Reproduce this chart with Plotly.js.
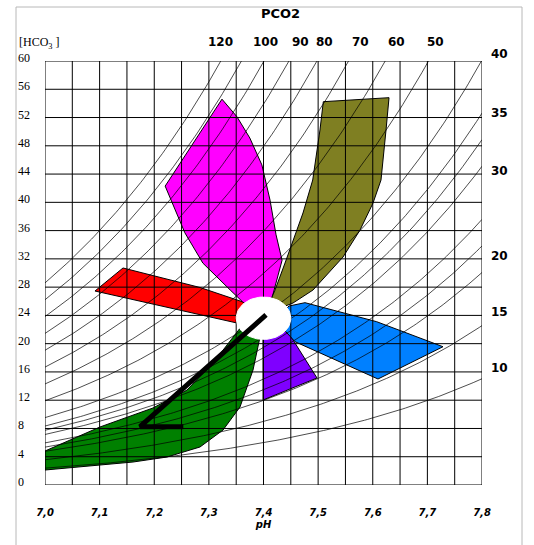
<!DOCTYPE html>
<html><head><meta charset="utf-8">
<script src="https://cdn.plot.ly/plotly-3.0.1.min.js"></script>
<style>html,body{margin:0;padding:0;background:#fff}#chart{width:534px;height:545px}</style>
</head><body><div id="chart"></div>
<script>
// ---- axis / tick data ----
const phTickVals=[7.0,7.1,7.2,7.3,7.4,7.5,7.6,7.7,7.8];
const phTickText=['7,0','7,1','7,2','7,3','7,4','7,5','7,6','7,7','7,8'];
const phGrid=[7.00,7.05,7.10,7.15,7.20,7.25,7.30,7.35,7.40,7.45,7.50,7.55,7.60,7.65,7.70,7.75,7.80];
const hco3Ticks=[0,4,8,12,16,20,24,28,32,36,40,44,48,52,56,60];
const pco2Isopleths=[120,110,100,90,80,70,60,50,40,35,32.5,30,25,22.5,20,15,10];
const pco2TopLabels=['120','100','90','80','70','60','50'];
const pco2RightLabels=['40','35','30','20','15','10'];

// ---- regions (pH, HCO3-) ----
const magentaPH=[7.324,7.3515,7.375,7.397,7.412,7.423,7.434,7.416,7.390,7.362,7.339,7.289,7.256,7.220];
const magentaHCO3=[54.6,52.1,49.1,45.3,40.3,35.4,31.8,26.6,24.5,25.9,27.6,31.4,35.7,42.3];
const redPH=[7.0915,7.1428,7.2838,7.3625,7.3844,7.3515];
const redHCO3=[27.45,30.71,27.95,25.90,24.06,22.92];
const olivePH=[7.5095,7.6298,7.6243,7.6151,7.6005,7.5767,7.5456,7.4906,7.4540,7.4119,7.4156,7.4211,7.4394,7.4540,7.4723,7.4901,7.5034];
const oliveHCO3=[54.24,54.81,50.23,43.16,39.90,36.08,32.26,27.59,25.75,24.48,26.60,27.59,31.41,34.67,38.49,43.16,50.24];
const bluePH=[7.4467,7.4760,7.6072,7.7286,7.6096,7.4577,7.4211];
const blueHCO3=[25.33,25.80,23.11,19.57,15.00,20.28,23.35];
const purplePH=[7.399,7.3991,7.4980,7.4449,7.4119];
const purpleHCO3=[22.6,12.03,15.14,21.65,23.35];
const greenPH=[7.0,7.1007,7.1977,7.2600,7.3076,7.3442,7.3588,7.390,7.3936,7.3808,7.3570,7.3259,7.2838,7.2233,7.1611,7.1007,7.0];
const greenHCO3=[4.81,8.21,10.90,13.44,17.26,20.94,22.36,23.07,20.94,16.27,11.04,7.78,5.38,3.96,3.25,2.83,2.12];
const normalCenter=[7.40,23.6];   // pH, HCO3
const normalHalfWidth=[0.05,3.0];
const pathPH=[7.4046,7.1739,7.2532];
const pathHCO3=[24.06,8.25,8.25];

const traces=[];
function region(x,y,color){
  traces.push({type:'scatter',mode:'lines',x:x.concat([x[0]]),y:y.concat([y[0]]),fill:'toself',
    fillcolor:color,line:{color:'#000',width:1},hoverinfo:'skip',showlegend:false});
}
region(greenPH,greenHCO3,'#008000');
region(redPH,redHCO3,'#ff0000');
region(magentaPH,magentaHCO3,'#ff00ff');
region(olivePH,oliveHCO3,'#7f7f22');
region(purplePH,purpleHCO3,'#7f00ff');
region(bluePH,blueHCO3,'#0080ff');

// grid as traces (drawn above fills like the reference)
const gx=[],gy=[];
phGrid.forEach(p=>{gx.push(p,p,null);gy.push(0,60,null);});
hco3Ticks.forEach(h=>{gx.push(7.0,7.8,null);gy.push(h,h,null);});
traces.push({type:'scatter',mode:'lines',x:gx,y:gy,line:{color:'#000',width:1},hoverinfo:'skip',showlegend:false});

// PCO2 isopleths (Henderson-Hasselbalch)
const ix=[],iy=[];
pco2Isopleths.forEach(P=>{
  for(let k=0;k<=160;k++){
    const ph=7.0+k*0.005;
    const h=0.03*P*Math.pow(10,ph-6.1);
    ix.push(ph);iy.push(h);
    if(h>60)break;
  }
  ix.push(null);iy.push(null);
});
traces.push({type:'scatter',mode:'lines',x:ix,y:iy,line:{color:'#000',width:0.7},hoverinfo:'skip',showlegend:false});

// normal zone ellipse
const ex=[],ey=[];
for(let k=0;k<=72;k++){const t=k/72*2*Math.PI;ex.push(normalCenter[0]+normalHalfWidth[0]*Math.cos(t));ey.push(normalCenter[1]+normalHalfWidth[1]*Math.sin(t));}
traces.push({type:'scatter',mode:'lines',x:ex,y:ey,fill:'toself',fillcolor:'#fff',line:{color:'#fff',width:1},hoverinfo:'skip',showlegend:false});

// patient path
traces.push({type:'scatter',mode:'lines',x:pathPH,y:pathHCO3,line:{color:'#000',width:5},hoverinfo:'skip',showlegend:false});

const H=424, W=437;
const px2paperX=p=>(p-45)/W, px2paperY=p=>(485-p)/H;
const ann=[];
const boldSans={family:'DejaVu Sans',size:12,weight:'bold',color:'#000'};
const topLabelPH=[7.322,7.403,7.467,7.511,7.577,7.643,7.715];
pco2TopLabels.forEach((t,i)=>ann.push({text:t,x:topLabelPH[i],xref:'x',xanchor:'center',y:px2paperY(42),yref:'paper',yanchor:'middle',showarrow:false,font:boldSans}));
const rightLabelY=[54,113,171,256,312,368];
pco2RightLabels.forEach((t,i)=>ann.push({text:t,x:px2paperX(499),xref:'paper',xanchor:'center',y:px2paperY(rightLabelY[i]),yref:'paper',yanchor:'middle',showarrow:false,font:boldSans}));
hco3Ticks.forEach(h=>ann.push({text:String(h),x:px2paperX(16),xref:'paper',xanchor:'left',y:h,yref:'y',yanchor:'middle',yshift:3,showarrow:false,
  font:{family:'Liberation Serif',size:12,color:'#000'}}));
ann.push({text:'PCO2',x:px2paperX(280),xref:'paper',xanchor:'center',y:px2paperY(13),yref:'paper',yanchor:'middle',showarrow:false,
  font:{family:'DejaVu Sans',size:13,weight:'bold',color:'#000'}});
ann.push({text:'[HCO<sub>3</sub> ]',x:px2paperX(17),xref:'paper',xanchor:'left',y:px2paperY(43),yref:'paper',yanchor:'middle',showarrow:false,
  font:{family:'Liberation Serif',size:12,color:'#000'}});

const layout={
  width:534,height:545,margin:{l:45,r:52,t:61,b:60,pad:0},
  paper_bgcolor:'#fff',plot_bgcolor:'#fff',showlegend:false,
  xaxis:{range:[7.0,7.8],showgrid:false,zeroline:false,showline:false,ticks:'',
    tickvals:phTickVals,ticktext:phTickText,ticklabelstandoff:20,
    tickfont:{family:'DejaVu Sans',size:10,weight:'bold',style:'italic',color:'#000'},
    title:{text:'pH',standoff:3,font:{family:'DejaVu Sans',size:10,weight:'bold',style:'italic',color:'#000'}},fixedrange:true},
  yaxis:{range:[0,60],showgrid:false,zeroline:false,showline:false,ticks:'',showticklabels:false,fixedrange:true},
  annotations:ann,
  shapes:[{type:'rect',xref:'paper',yref:'paper',x0:px2paperX(16),x1:px2paperX(522),y0:px2paperY(560),y1:px2paperY(7),
    line:{color:'#b8b8b8',width:1},fillcolor:'rgba(0,0,0,0)',layer:'below'}]
};
Plotly.newPlot('chart',traces,layout,{staticPlot:true,displayModeBar:false});
</script></body></html>
